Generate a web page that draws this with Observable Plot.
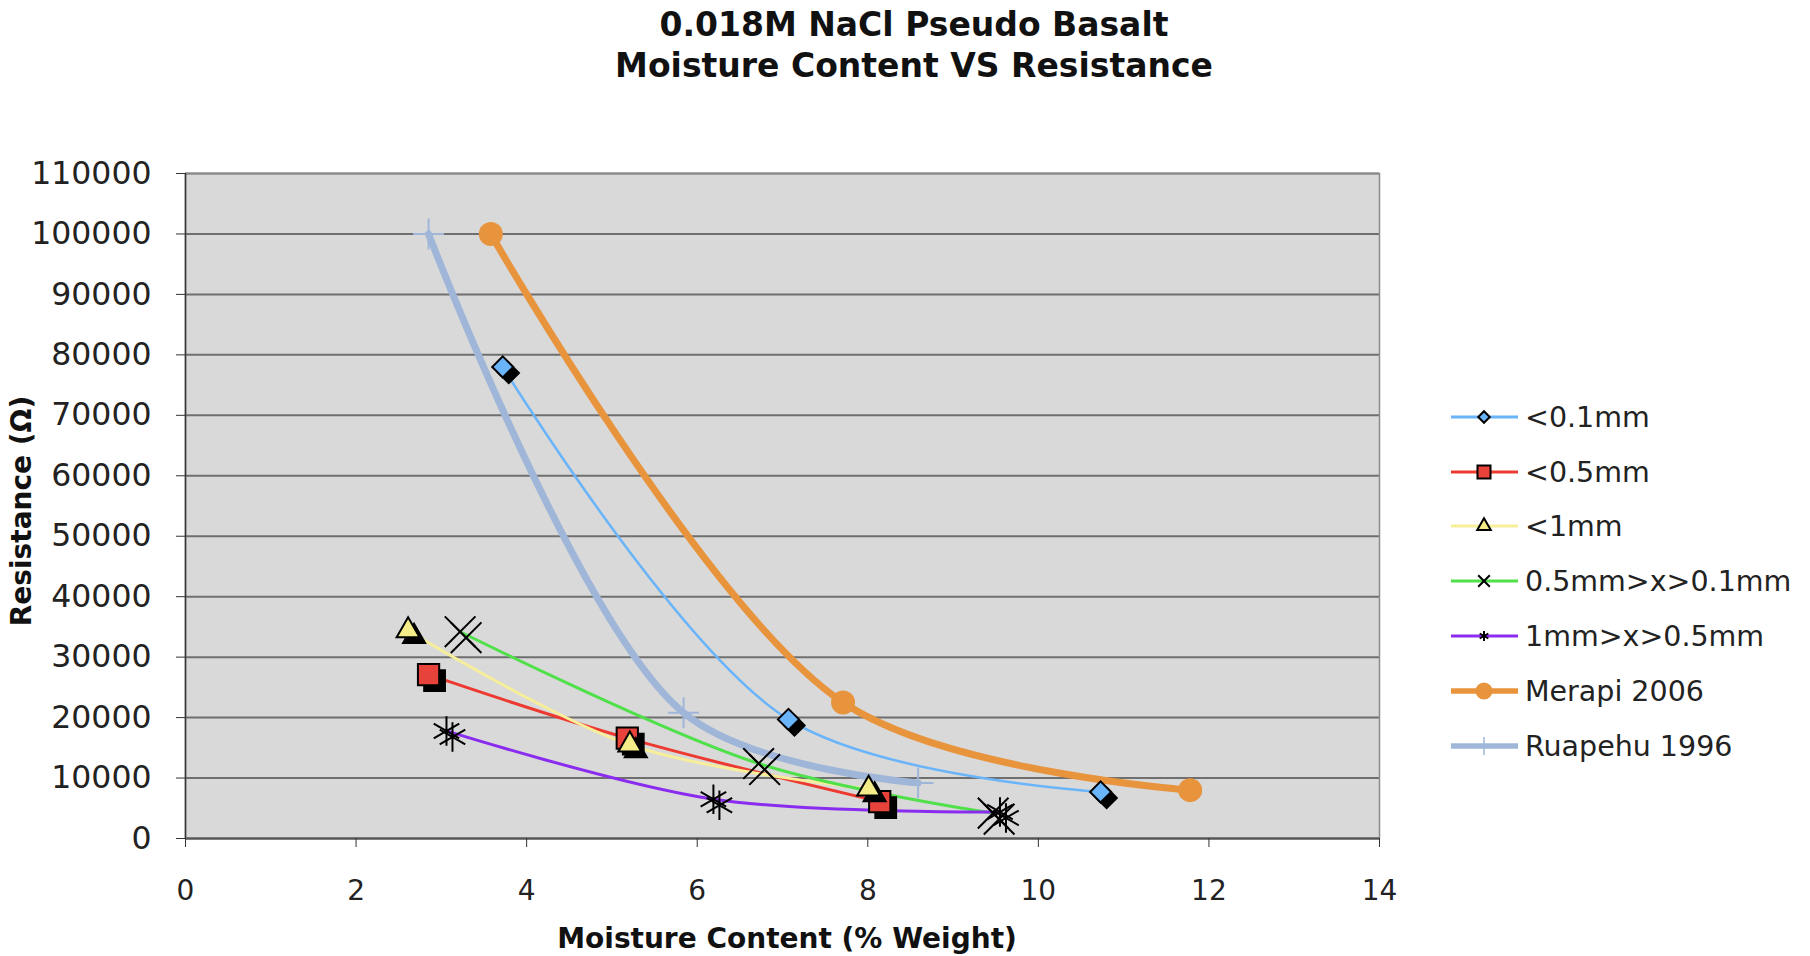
<!DOCTYPE html>
<html><head><meta charset="utf-8">
<script src="https://cdn.jsdelivr.net/npm/d3@7"></script>
<script src="https://cdn.jsdelivr.net/npm/@observablehq/plot@0.6"></script>
<style>
body{margin:0;background:#fff;font-family:"DejaVu Sans",Verdana,sans-serif;}
#wrap{position:relative;width:1810px;height:956px;overflow:hidden;background:#fff;}
#chart{position:absolute;left:0;top:0;}
.t{position:absolute;white-space:nowrap;color:#111;font-weight:bold;}
.title{left:914px;transform:translate(-50%,-50%);font-size:33px;}
#xlab{left:787px;top:938px;transform:translate(-50%,-50%);font-size:28px;}
#ylab{left:21px;top:511px;transform:translate(-50%,-50%) rotate(-90deg);font-size:28px;}
#legend{position:absolute;left:1448px;top:0;}
.li{position:absolute;left:0;height:40px;display:flex;align-items:center;white-space:nowrap;font-size:28.5px;color:#222;}
.li svg{margin-right:7px;}
</style></head><body>
<div id="wrap">
  <div id="chart"></div>
  <div class="t title" style="top:24px">0.018M NaCl Pseudo Basalt</div>
  <div class="t title" style="top:65px">Moisture Content VS Resistance</div>
  <div class="t" id="xlab">Moisture Content (% Weight)</div>
  <div class="t" id="ylab">Resistance (Ω)</div>
  <div id="legend"></div>
</div>
<script>
// ---- data ----
const seriesNames = ["<0.1mm", "<0.5mm", "<1mm", "0.5mm>x>0.1mm", "1mm>x>0.5mm", "Merapi 2006", "Ruapehu 1996"];
const xTicks = [0, 2, 4, 6, 8, 10, 12, 14];
const yTicks = [0, 10000, 20000, 30000, 40000, 50000, 60000, 70000, 80000, 90000, 100000, 110000];

const moistLt01 = [3.72, 7.07, 10.73];
const resLt01   = [78000, 19700, 7700];
const moistLt05 = [2.85, 5.18, 8.14];
const resLt05   = [27100, 16600, 6100];
const moistLt1  = [2.61, 5.21, 8.01];
const resLt1    = [34400, 15500, 8200];
const moist05to01 = [3.22, 6.72, 9.47];
const res05to01   = [34200, 12400, 4200];
const moist1to05  = [3.06, 6.19, 9.55];
const res1to05    = [17800, 6500, 4400];
const moistMerapi = [3.58, 7.71, 11.78];
const resMerapi   = [100000, 22500, 8000];
const moistRuapehu = [2.85, 5.84, 8.59];
const resRuapehu   = [100000, 20800, 9200];

const moistAll = [moistLt01, moistLt05, moistLt1, moist05to01, moist1to05, moistMerapi, moistRuapehu];
const resAll = [resLt01, resLt05, resLt1, res05to01, res1to05, resMerapi, resRuapehu];

// ---- styles ----
const styles = [
  {line: "#6ab4fa", lw: 2.5, sym: "diamond2", fill: "#6ab4fa", mstroke: "#000", r: 9.5, shadow: true, lsz: 85},
  {line: "#ec3a30", lw: 3, sym: "square", fill: "#e8433a", mstroke: "#000", r: 12, shadow: true, lsz: 170},
  {line: "#f7ee9a", lw: 3, sym: "triangle", fill: "#f4ec88", mstroke: "#000", r: 8.5, shadow: true, lsz: 80},
  {line: "#4fe04a", lw: 3, sym: "times", fill: "none", mstroke: "#000", r: 14, shadow: true, lsz: 90},
  {line: "#8a2cf0", lw: 3, sym: "asterisk", fill: "none", mstroke: "#000", r: 14, shadow: true, lsz: 70},
  {line: "#e8943c", lw: 7, sym: "circle", fill: "#e8943c", mstroke: "none", r: 12, shadow: false, lsz: 230},
  {line: "#9fb6d9", lw: 7, sym: "plus", fill: "none", mstroke: "#9fb6d9", r: 10, shadow: false, lsz: 110}
];

const tables = seriesNames.map((name, i) => moistAll[i].map((m, j) => ({series: name, moisture: m, resistance: resAll[i][j]})));

const marks = [
  Plot.frame({fill: "#d9d9d9", stroke: null}),
  Plot.gridY(yTicks, {stroke: "#6f6f6f", strokeOpacity: 1, strokeWidth: 2}),
  Plot.frame({stroke: "#8c8c8c", strokeWidth: 1.5}),
  Plot.ruleY([0], {stroke: "#555", strokeWidth: 2}),
  Plot.ruleX([0], {stroke: "#333", strokeWidth: 1.5}),
  Plot.axisY(yTicks, {tickSize: 9, tickPadding: 25, fontSize: 31.5, tickFormat: d => String(d), fill: "#222", stroke: "#333", label: null}),
  Plot.axisX(xTicks, {tickSize: 9, tickPadding: 33, fontSize: 28, tickFormat: d => String(d), fill: "#222", stroke: "#333", label: null})
];
tables.forEach((t, i) => {
  const s = styles[i];
  marks.push(Plot.line(t, {x: "moisture", y: "resistance", curve: "catmull-rom", stroke: s.line, strokeWidth: s.lw}));
});
tables.forEach((t, i) => {
  const s = styles[i];
  const strokeSym = s.fill === "none";
  if (s.shadow) {
    marks.push(Plot.dot(t, {x: "moisture", y: "resistance", symbol: () => s.sym, r: s.r, dx: 6, dy: 6,
      fill: strokeSym ? "none" : "#000", stroke: "#000", strokeWidth: strokeSym ? 2 : 1.5}));
  }
  marks.push(Plot.dot(t, {x: "moisture", y: "resistance", symbol: () => s.sym, r: s.r,
    fill: s.fill, stroke: s.mstroke, strokeWidth: 2}));
});

const chart = Plot.plot({
  width: 1810, height: 956,
  marginLeft: 185, marginRight: 431, marginTop: 173, marginBottom: 118,
  x: {domain: [0, 14]},
  y: {domain: [0, 110000]},
  symbol: {type: "identity"},
  style: {background: "transparent", fontFamily: "'DejaVu Sans', Verdana, sans-serif"},
  marks
});
document.getElementById("chart").appendChild(chart);

// ---- legend ----
const legend = d3.select("#legend");
const legendY = [417, 472, 526, 581, 636, 691, 746];
const symMap = {diamond2: d3.symbolDiamond2, square: d3.symbolSquare, triangle: d3.symbolTriangle, times: d3.symbolTimes, asterisk: d3.symbolAsterisk, circle: d3.symbolCircle, plus: d3.symbolPlus};
seriesNames.forEach((name, i) => {
  const s = styles[i];
  const item = legend.append("div").attr("class", "li").style("top", (legendY[i] - 20) + "px");
  const svg = item.append("svg").attr("width", 70).attr("height", 40);
  svg.append("line").attr("x1", 3).attr("x2", 70).attr("y1", 20).attr("y2", 20)
    .attr("stroke", s.line).attr("stroke-width", i >= 5 ? 5.5 : 3);
  svg.append("path").attr("transform", "translate(36,20)")
    .attr("d", d3.symbol(symMap[s.sym], s.lsz)())
    .attr("fill", s.fill).attr("stroke", s.mstroke).attr("stroke-width", i === 6 ? 1.5 : 2);
  item.append("span").text(name);
});
</script>
</body></html>
